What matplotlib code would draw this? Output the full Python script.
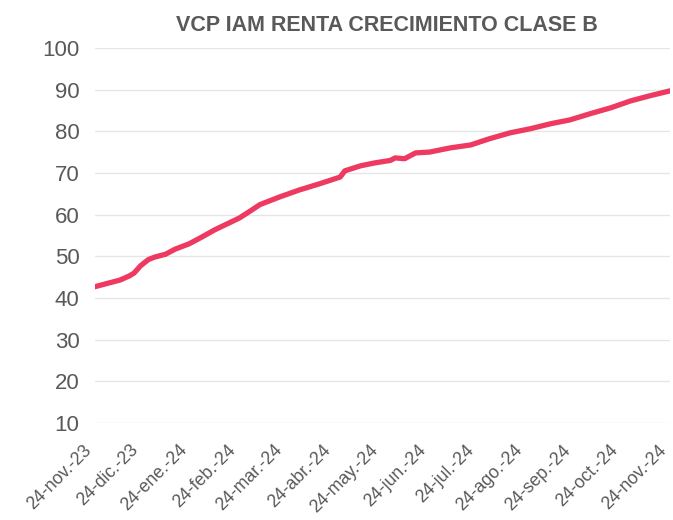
import numpy as np
import pandas as pd
import matplotlib
matplotlib.use("Agg")
import matplotlib.pyplot as plt

plt.rcParams['font.family'] = ['Liberation Sans', 'DejaVu Sans']

# --- data
dates = pd.to_datetime([
    "2023-11-24", "2023-12-10", "2023-12-16", "2023-12-19", "2023-12-23",
    "2023-12-28", "2024-01-01", "2024-01-08", "2024-01-14", "2024-01-23",
    "2024-01-30", "2024-02-08", "2024-02-24", "2024-03-02", "2024-03-08",
    "2024-03-21", "2024-04-02", "2024-04-15", "2024-04-28", "2024-05-01",
    "2024-05-11", "2024-05-20", "2024-05-30", "2024-06-02", "2024-06-08",
    "2024-06-15", "2024-06-24", "2024-07-07", "2024-07-20", "2024-08-01",
    "2024-08-14", "2024-08-27", "2024-09-09", "2024-09-21", "2024-10-04",
    "2024-10-17", "2024-10-30", "2024-11-11", "2024-11-24",
])
values = [
    42.7, 44.3, 45.3, 46.0, 47.7,
    49.2, 49.8, 50.5, 51.7, 53.0,
    54.4, 56.3, 59.2, 60.9, 62.4,
    64.3, 65.9, 67.4, 69.0, 70.5,
    71.7, 72.4, 73.0, 73.6, 73.4,
    74.8, 75.0, 76.0, 76.7, 78.2,
    79.6, 80.6, 81.8, 82.7, 84.2,
    85.6, 87.3, 88.5, 89.7,
]
tick_dates = pd.date_range("2023-11-24", "2024-11-24", freq=pd.DateOffset(months=1))
tick_labels = ["24-nov.-23", "24-dic.-23", "24-ene.-24", "24-feb.-24", "24-mar.-24",
               "24-abr.-24", "24-may.-24", "24-jun.-24", "24-jul.-24", "24-ago.-24",
               "24-sep.-24", "24-oct.-24", "24-nov.-24"]

# --- figure
fig = plt.figure(figsize=(6.73, 5.2), dpi=100)
ax = fig.add_axes([0.141, 0.1865, 0.855, 0.7215])

ax.plot(dates, values, color="#EE3A60", lw=3.8, solid_capstyle="round")

ax.set_ylim(10, 100)
ax.set_yticks(range(10, 101, 10))
ax.set_xlim(tick_dates[0], tick_dates[-1])
ax.set_xticks(tick_dates)
ax.set_xticklabels(tick_labels, rotation=45, ha="right", va="bottom",
                   rotation_mode="anchor")

ax.grid(axis="y", color="#E6E6E6", lw=1)
ax.set_axisbelow(True)
for s in ax.spines.values():
    s.set_visible(False)
ax.tick_params(length=0, colors="#595959")
ax.tick_params(axis="y", labelsize=16, pad=11)
ax.tick_params(axis="x", labelsize=12.8, pad=22)

ax.set_title("VCP IAM RENTA CRECIMIENTO CLASE B", fontsize=15.5, fontweight="bold",
             color="#595959", pad=12, x=0.507)

fig.savefig("out.png", dpi=100)
